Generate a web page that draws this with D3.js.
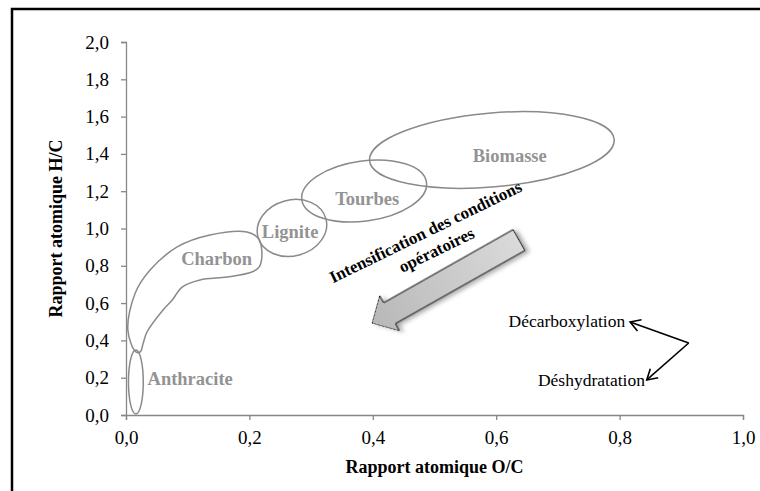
<!DOCTYPE html>
<html>
<head>
<meta charset="utf-8">
<script src="https://cdn.jsdelivr.net/npm/d3@7"></script>
<style>
body { margin: 0; background: #fff; }
svg text { font-family: "Liberation Serif", "Times New Roman", serif; }
</style>
</head>
<body>
<script>
// chart size
const width = 760, height = 491;

// axis ticks
const xTicks = [0, 0.2, 0.4, 0.6, 0.8, 1.0];
const yTicks = [0, 0.2, 0.4, 0.6, 0.8, 1.0, 1.2, 1.4, 1.6, 1.8, 2.0];

// elliptic domains (centre and half-span, in O/C and H/C units)
const regionNames = ["Anthracite", "Lignite", "Tourbes", "Biomasse"];
const regionOC = [0.016, 0.269, 0.386, 0.593];
const regionHC = [0.177, 1.003, 1.201, 1.421];
const regionSpanOC = [0.012, 0.057, 0.102, 0.199];
const regionSpanHC = [0.172, 0.150, 0.161, 0.198];
const regionTilt = [0, -15, -8, -5];

// charbon domain outline [O/C, H/C]
const charbonOutline = [
    [0.016, 0.338], [0.003, 0.456], [0.015, 0.654], [0.039, 0.777],
    [0.083, 0.901], [0.136, 0.965], [0.196, 0.981], [0.214, 0.949],
    [0.220, 0.885], [0.216, 0.794], [0.204, 0.767], [0.164, 0.740],
    [0.120, 0.724], [0.091, 0.686], [0.075, 0.617], [0.060, 0.563],
    [0.034, 0.445], [0.028, 0.386], [0.023, 0.338]
];

// domain labels
const labelNames = ["Anthracite", "Charbon", "Lignite", "Tourbes", "Biomasse"];
const labelOC = [0.104, 0.147, 0.266, 0.391, 0.622];
const labelHC = [0.161, 0.804, 0.949, 1.126, 1.356];

// big arrow: tail -> tip
const trendTail = [0.637, 0.938];
const trendTip = [0.399, 0.493];
const trendText = ["Intensification des conditions", "opératoires"];

// reaction arrows
const reactVertex = [0.912, 0.386];
const reactTips = [[0.817, 0.499], [0.844, 0.188]];
const reactNames = ["Décarboxylation", "Déshydratation"];
const reactTextEnd = [[0.809, 0.472], [0.841, 0.157]];

const fmt = d => d3.format(".1f")(d).replace(".", ",");
const serif = "'Liberation Serif', 'Times New Roman', serif";

let svg = d3.select("body")
    .append("svg")
    .attr("width", width)
    .attr("height", height)
    .attr("font-family", serif);

let defs = svg.append("defs");

let grad = defs.append("linearGradient")
    .attr("id", "arrowFill")
    .attr("x1", "0%").attr("x2", "100%").attr("y1", "0%").attr("y2", "0%");
grad.append("stop").attr("offset", "0%").attr("stop-color", "#b8b8b8");
grad.append("stop").attr("offset", "100%").attr("stop-color", "#dadada");

defs.append("filter")
    .attr("id", "shadow")
    .attr("x", "-20%").attr("y", "-20%").attr("width", "140%").attr("height", "140%")
    .append("feDropShadow")
    .attr("dx", 3).attr("dy", 3)
    .attr("stdDeviation", 2)
    .attr("flood-color", "#777")
    .attr("flood-opacity", 0.6);

defs.append("marker")
    .attr("id", "vhead")
    .attr("markerUnits", "userSpaceOnUse")
    .attr("viewBox", "-12 -8 14 16")
    .attr("markerWidth", 14).attr("markerHeight", 16)
    .attr("refX", 0).attr("refY", 0)
    .attr("orient", "auto")
    .append("path")
    .attr("d", "M-10,-6L0,0L-10,6")
    .attr("fill", "none")
    .attr("stroke", "#000")
    .attr("stroke-width", 1.6);

// frame
svg.append("rect")
    .attr("x", 12).attr("y", 9)
    .attr("width", 780).attr("height", 520)
    .attr("fill", "none")
    .attr("stroke", "#000")
    .attr("stroke-width", 2.5);

let x = d3.scaleLinear().domain([0, 1]).range([126, 743]);
let y = d3.scaleLinear().domain([0, 2]).range([415, 42]);

const axisColor = "#878787";

let gy = svg.append("g")
    .attr("transform", `translate(${x(0)},0)`)
    .call(d3.axisLeft(y).tickValues(yTicks).tickFormat(fmt).tickSize(5).tickPadding(12));

let gx = svg.append("g")
    .attr("transform", `translate(0,${y(0)})`)
    .call(d3.axisBottom(x).tickValues(xTicks).tickFormat(fmt).tickSize(5).tickPadding(11));

[gx, gy].forEach(g => {
    g.attr("font-family", serif).attr("font-size", 19);
    g.select(".domain").attr("stroke", axisColor).attr("stroke-width", 1.3);
    g.selectAll(".tick line").attr("stroke", axisColor).attr("stroke-width", 1.3);
    g.selectAll(".tick text").attr("fill", "#000");
});

// axis titles
svg.append("text")
    .attr("x", (x(0) + x(1)) / 2)
    .attr("y", 473)
    .style("text-anchor", "middle")
    .style("font-size", "18px")
    .style("font-weight", "bold")
    .text("Rapport atomique O/C");

svg.append("text")
    .attr("transform", `translate(62, ${(y(0) + y(2)) / 2}) rotate(-90)`)
    .style("text-anchor", "middle")
    .style("font-size", "18px")
    .style("font-weight", "bold")
    .text("Rapport atomique H/C");

// domains
const domainColor = "#8a8a8a";

svg.append("path")
    .attr("d", d3.line()
        .x(d => x(d[0]))
        .y(d => y(d[1]))
        .curve(d3.curveCatmullRomClosed.alpha(0.5))(charbonOutline))
    .attr("fill", "none")
    .attr("stroke", domainColor)
    .attr("stroke-width", 1.5);

svg.append("g")
    .selectAll("ellipse")
    .data(regionNames)
    .enter()
    .append("ellipse")
    .attr("transform", (d, i) => `translate(${x(regionOC[i])},${y(regionHC[i])}) rotate(${regionTilt[i]})`)
    .attr("rx", (d, i) => x(regionOC[i] + regionSpanOC[i]) - x(regionOC[i]))
    .attr("ry", (d, i) => y(regionHC[i]) - y(regionHC[i] + regionSpanHC[i]))
    .attr("fill", "none")
    .attr("stroke", domainColor)
    .attr("stroke-width", 1.5);

svg.append("g")
    .selectAll("text")
    .data(labelNames)
    .enter()
    .append("text")
    .attr("x", (d, i) => x(labelOC[i]))
    .attr("y", (d, i) => y(labelHC[i]))
    .style("text-anchor", "middle")
    .style("font-size", "18.5px")
    .style("font-weight", "bold")
    .attr("fill", "#939393")
    .text(d => d);

// big block arrow
const tipX = x(trendTip[0]), tipY = y(trendTip[1]);
const tailX = x(trendTail[0]), tailY = y(trendTail[1]);
const len = Math.hypot(tailX - tipX, tailY - tipY);
const ang = Math.atan2(tailY - tipY, tailX - tipX) * 180 / Math.PI;
const headLen = 20, headHalf = 20, shaftHalf = 12;

svg.append("path")
    .attr("transform", `translate(${tipX},${tipY}) rotate(${ang})`)
    .attr("d", d3.line()([
        [0, 0], [headLen, -headHalf], [headLen, -shaftHalf], [len, -shaftHalf],
        [len, shaftHalf], [headLen, shaftHalf], [headLen, headHalf]
    ]) + "Z")
    .attr("fill", "url(#arrowFill)")
    .attr("stroke", "#000")
    .attr("stroke-width", 1)
    .attr("filter", "url(#shadow)");

let tg = svg.append("g")
    .attr("transform", "translate(428,237) rotate(-26)");
tg.selectAll("text")
    .data(trendText)
    .enter()
    .append("text")
    .attr("x", (d, i) => i * 2)
    .attr("y", (d, i) => i * 21)
    .style("text-anchor", "middle")
    .style("font-size", "17px")
    .style("font-weight", "bold")
    .text(d => d);

// reaction arrows
svg.append("g")
    .selectAll("line")
    .data(reactTips)
    .enter()
    .append("line")
    .attr("x1", x(reactVertex[0]))
    .attr("y1", y(reactVertex[1]))
    .attr("x2", d => x(d[0]))
    .attr("y2", d => y(d[1]))
    .attr("stroke", "#000")
    .attr("stroke-width", 1.6)
    .attr("marker-end", "url(#vhead)");

svg.append("g")
    .selectAll("text")
    .data(reactNames)
    .enter()
    .append("text")
    .attr("x", (d, i) => x(reactTextEnd[i][0]))
    .attr("y", (d, i) => y(reactTextEnd[i][1]))
    .style("text-anchor", "end")
    .style("font-size", "17.5px")
    .text(d => d);
</script>
</body>
</html>
